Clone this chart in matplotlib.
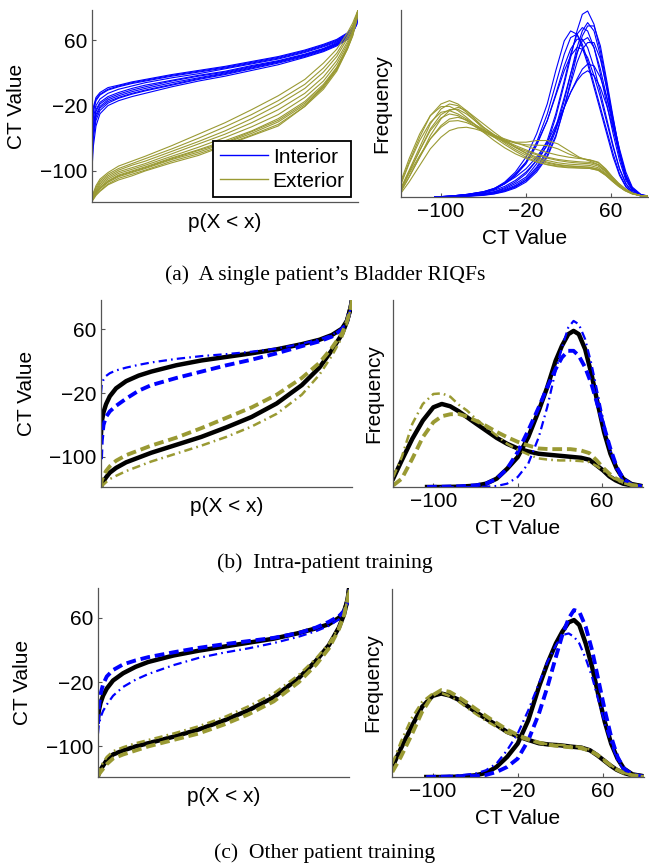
import matplotlib
matplotlib.use("Agg")
import matplotlib.pyplot as plt

plt.rcParams["font.family"] = ["Liberation Sans", "DejaVu Sans"]
plt.rcParams["lines.scale_dashes"] = False

W, H = 649, 865
BLUE, OLIVE, BLACK = "#0000ff", "#9a9a33", "black"
DASHED = (0, (7, 3.5))
DASHDOT = (0, (6, 3, 1.2, 3))

# ---- quantile grids (p) ----
PA = [0, 0.005, 0.015, 0.03, 0.06, 0.1, 0.15, 0.2, 0.3, 0.4, 0.5, 0.6, 0.7, 0.8, 0.87, 0.92, 0.96, 0.98, 0.995, 1.0]
PB = [0, 0.003, 0.01, 0.02, 0.035, 0.06, 0.1, 0.15, 0.2, 0.3, 0.4, 0.5, 0.6, 0.7, 0.8, 0.87, 0.92, 0.96, 0.98, 0.995, 1.0]

# ---- density grids (CT value) ----
XI = [-106, -90, -75, -60, -50, -40, -30, -20, -10, 0, 8, 16, 22, 28, 33, 38, 44, 50, 56, 62, 68, 74, 80, 88, 99]
XE = [-138, -130, -120, -110, -100, -92, -84, -76, -68, -60, -50, -40, -30, -20, -10, 0, 10, 20, 30, 40, 48, 55, 61, 67, 73, 80, 88, 99]

# (a) single patient RIQFs: interior (blue) and exterior (olive)
A_INT_Q = [
    [-45, -22, -10, -4, 2, 5, 9, 12, 18, 23, 28, 34, 40, 48, 55, 61, 69, 76, 86, 95],
    [-55, -28, -14, -7, -1, 3, 7, 10, 16, 21, 26, 32, 38, 46, 53, 59, 67, 74, 84, 94],
    [-62, -35, -20, -12, -5, 0, 4, 8, 14, 19, 25, 31, 37, 45, 52, 58, 66, 73, 83, 93],
    [-70, -42, -25, -16, -9, -4, 1, 5, 11, 17, 22, 29, 35, 43, 50, 57, 65, 72, 82, 92],
    [-80, -50, -31, -21, -13, -8, -3, 1, 8, 14, 20, 27, 34, 42, 49, 56, 64, 71, 81, 91],
    [-90, -60, -38, -26, -17, -11, -6, -2, 5, 12, 18, 25, 32, 40, 47, 54, 62, 70, 80, 90],
    [-98, -70, -45, -30, -20, -14, -9, -5, 3, 10, 16, 23, 30, 39, 46, 53, 61, 69, 79, 89],
    [-50, -25, -12, -6, 0, 4, 8, 11, 17, 22, 27, 33, 39, 47, 54, 60, 68, 75, 85, 94],
    [-75, -45, -27, -18, -11, -6, -1, 3, 10, 16, 21, 28, 34, 42, 49, 55, 62, 69, 79, 88],
    [-85, -55, -34, -23, -15, -10, -5, -1, 6, 13, 19, 26, 33, 41, 48, 55, 63, 71, 82, 92],
]
A_EXT_Q = [
    [-137, -127, -118, -110, -102, -94, -88, -82, -69, -55, -41, -25, -8, 12, 32, 49, 69, 81, 93, 97],
    [-137, -128, -120, -112, -104, -97, -91, -85, -73, -60, -46, -31, -14, 6, 26, 44, 65, 78, 91, 97],
    [-137, -129, -122, -114, -106, -99, -93, -88, -76, -64, -51, -36, -19, 1, 21, 40, 62, 76, 90, 97],
    [-137, -130, -124, -116, -108, -101, -96, -91, -79, -67, -55, -41, -25, -5, 15, 35, 58, 73, 89, 97],
    [-137, -131, -125, -118, -110, -103, -98, -93, -82, -71, -59, -46, -31, -10, 10, 31, 55, 71, 88, 97],
    [-137, -132, -126, -120, -112, -105, -100, -95, -84, -74, -63, -51, -36, -15, 6, 27, 52, 69, 87, 97],
    [-137, -133, -128, -122, -114, -107, -102, -97, -86, -77, -66, -54, -40, -19, 2, 24, 50, 67, 86, 97],
    [-137, -134, -129, -124, -116, -109, -104, -99, -88, -79, -68, -56, -43, -21, 0, 22, 49, 66, 85, 97],
    [-137, -135, -130, -125, -117, -111, -106, -100, -90, -81, -69, -57, -45, -21, 4, 24, 49, 65, 84, 97],
    [-137, -133, -127, -121, -113, -106, -101, -96, -85, -75, -65, -52, -38, -17, 4, 26, 51, 68, 86, 97],
]
A_INT_D = [
    [0, 0.2, 0.5, 1, 1.5, 2.5, 4, 6, 10, 16, 24, 34, 42, 50, 55, 56, 52, 44, 34, 23, 13, 6, 2.5, 0.6, 0],
    [0, 0.3, 0.8, 1.6, 2.5, 4.5, 7.5, 12, 19, 28, 38, 47, 50, 49, 45, 40, 33, 26, 19, 12, 6.5, 3, 1.2, 0.3, 0],
    [0, 0.3, 0.7, 1.4, 2.2, 4, 6.5, 10.5, 16.5, 25, 34, 43, 48, 49, 46, 41, 34, 27, 20, 13, 7, 3.2, 1.2, 0.3, 0],
    [0, 0.2, 0.5, 1, 1.6, 2.8, 4.5, 7, 11, 17, 25, 35, 43, 49, 51, 50, 45, 37, 28, 19, 11, 5, 2, 0.5, 0],
    [0, 0.1, 0.3, 0.8, 1.3, 2.2, 3.5, 5.5, 9, 14, 21, 30, 37, 43.5, 47, 48, 45, 38.5, 30, 21, 12.5, 6, 2.4, 0.6, 0],
    [0, 0.1, 0.3, 0.6, 1, 1.8, 3, 5, 8, 12.5, 18.5, 27, 34, 40.5, 44.5, 46.5, 46.5, 41.5, 33, 23.5, 14, 6.5, 2.6, 0.6, 0],
    [0, 0.3, 0.8, 1.5, 2.5, 4.2, 7, 10.5, 16, 23, 30.5, 38, 42.5, 45, 44.5, 42, 36.5, 30, 22.5, 15, 8.5, 4, 1.5, 0.4, 0],
    [0, 0.2, 0.6, 1.2, 2, 3.2, 5, 7.5, 11, 15.5, 20.5, 27, 31.5, 35.5, 38.5, 40, 39.5, 36, 30, 22.5, 14.5, 7.5, 3, 0.8, 0],
    [0, 0.3, 0.8, 1.6, 2.6, 4, 6, 8.5, 12, 16.5, 21.5, 27, 31.5, 35, 37, 38, 36.5, 33, 27.5, 20.5, 13, 6.5, 2.7, 0.7, 0],
    [0, 0.1, 0.2, 0.5, 0.9, 1.6, 2.7, 4.5, 7.5, 12, 18, 27, 35, 43, 48.5, 51.5, 51.5, 45.5, 35, 24, 13.5, 6, 2.3, 0.5, 0],
    [0, 0.2, 0.7, 1.4, 2.3, 4, 6.5, 10, 15.5, 23, 31, 39.5, 44.5, 47.5, 47.5, 45, 39, 31.5, 23.5, 15.5, 8.5, 4, 1.5, 0.4, 0],
    [0, 0.1, 0.3, 0.7, 1.2, 2, 3.2, 5, 8.5, 13.5, 20, 29, 37, 45, 50, 52.5, 50, 42.5, 32.5, 22, 12.5, 5.5, 2.2, 0.5, 0],
]
A_EXT_D = [
    [4, 10.5, 18, 24.5, 28, 29, 28, 26, 23.5, 21, 18.5, 16.3, 14.3, 12.6, 11.2, 10.2, 9.6, 9.3, 9.1, 8.9, 8.3, 6.8, 5, 3.4, 2, 1, 0.4, 0.1],
    [2.5, 8, 15, 22, 26.5, 28, 27.5, 25.5, 23, 20.5, 18, 15.8, 13.8, 12, 10.7, 9.7, 9.1, 8.8, 8.7, 8.6, 8.1, 6.6, 4.9, 3.3, 2, 1, 0.4, 0.1],
    [1.5, 6, 12, 18.5, 23.5, 26, 27, 26, 24, 22, 19.5, 17.2, 15, 13.1, 11.6, 10.5, 9.8, 9.4, 9.2, 9, 8.4, 6.9, 5.1, 3.5, 2.1, 1, 0.4, 0.1],
    [3.5, 10, 17, 22.5, 25.5, 26, 25, 23.5, 21.8, 20, 18.2, 16.6, 15.1, 13.8, 12.7, 11.7, 11, 10.5, 10.2, 10, 9.3, 7.6, 5.6, 3.8, 2.3, 1.1, 0.4, 0.1],
    [2, 7.5, 14, 20, 23.8, 25, 24.5, 23, 21.2, 19.5, 18, 17, 16.5, 16.5, 17, 17, 16, 14, 12, 10.8, 9.8, 7.8, 5.8, 3.9, 2.4, 1.1, 0.4, 0.1],
    [1.5, 6, 12, 17.5, 21.5, 23.5, 24, 23.2, 21.8, 20.3, 18.6, 17, 15.5, 14.2, 13, 12, 11.3, 10.9, 10.6, 10.4, 9.7, 7.9, 5.8, 3.9, 2.4, 1.1, 0.4, 0.1],
    [2, 7, 12.5, 17.5, 21, 22.8, 23, 22.4, 21.3, 20, 18.5, 17.2, 16.2, 15.7, 15.6, 15.5, 14.5, 13, 11.8, 11.1, 10.3, 8.3, 6.1, 4.1, 2.5, 1.2, 0.4, 0.1],
    [1, 4.5, 9.5, 14.5, 18, 20, 20.8, 21, 20.5, 19.7, 18.6, 17.5, 16.4, 15.3, 14.3, 13.4, 12.6, 12, 11.6, 11.2, 10.5, 8.5, 6.2, 4.2, 2.6, 1.2, 0.4, 0.1],
    [4.5, 11.5, 19, 24.5, 27.2, 27.3, 26, 24, 21.8, 19.5, 17, 14.8, 13, 11.6, 10.5, 9.8, 9.3, 9, 8.8, 8.6, 8, 6.5, 4.8, 3.2, 1.9, 0.9, 0.4, 0.1],
    [2, 7.5, 14, 20.5, 24.8, 26.3, 26.4, 25, 23, 21, 18.8, 16.8, 14.9, 13.3, 12, 11, 10.3, 9.9, 9.7, 9.5, 8.8, 7.2, 5.3, 3.6, 2.2, 1, 0.4, 0.1],
]

# (b) intra-patient training
B_INT_Q = [-71, -56, -44, -34, -24, -14, -5, 2, 7, 15, 21, 25.5, 30, 35, 41.5, 47, 53, 61, 71, 88, 97]
B_INT_Q_DASH = [-103, -80, -60, -50, -43, -36, -27, -17, -10, -1, 7, 15, 22, 30, 39, 45, 51, 60, 70, 88, 97]
B_INT_Q_DOT = [-20, -10, -3, 1.5, 5, 8.5, 12, 15.5, 18.5, 23, 26.5, 29, 32, 36, 42, 47.5, 53, 61, 70, 87, 97]
B_EXT_Q = [-138, -135, -131, -126, -120, -114, -107, -101, -95, -85, -75, -63, -50, -33, -10, 12, 34, 54, 70, 88, 97]
B_EXT_Q_DASH = [-138, -130, -124, -118, -112, -105, -98, -92, -86, -76, -64, -51, -38, -22, -1, 18, 37, 55, 70, 88, 97]
B_EXT_Q_DOT = [-138, -137, -135, -132, -128, -124, -118, -112, -106, -96, -86, -75, -62, -46, -22, 3, 27, 50, 67, 87, 97]
B_INT_D = [0, 0, 0.1, 0.4, 1, 2.5, 5.5, 9, 15, 23, 30, 38, 42.5, 46, 47, 46, 41.5, 34, 25, 16.5, 10, 5.5, 2.5, 0.9, 0.2]
B_INT_D_DASH = [0, 0.1, 0.2, 0.5, 1, 2.5, 5.5, 10.5, 17, 24, 30, 35.5, 39, 41, 41, 39.5, 36, 31, 24.5, 18, 11.5, 6, 2.5, 0.7, 0.1]
B_INT_D_DOT = [0, 0, 0, 0, 0.1, 0.3, 1, 3, 7, 15, 24, 35, 42, 48, 50, 49, 44.5, 37, 28, 19, 11, 5, 2, 0.6, 0.1]
B_EXT_D = [2.6, 8, 14.5, 20, 24, 25, 24.3, 22.8, 21, 19.2, 17, 14.8, 13, 11.6, 10.7, 10, 9.7, 9.4, 9.1, 8.8, 8.2, 6.5, 5, 3.2, 2, 1, 0.5, 0.2]
B_EXT_D_DASH = [0.5, 2.5, 8.5, 15, 19.5, 21.3, 21.9, 22, 21.2, 20, 18.4, 16.6, 15, 13.6, 12.5, 11.6, 11.4, 11.4, 11.4, 11, 10.2, 8, 5.8, 4, 2.6, 1.5, 0.6, 0.2]
B_EXT_D_DOT = [3, 9, 19, 25, 28, 28.2, 27.2, 24.8, 23, 20.6, 18, 15.5, 13, 11.2, 9.8, 8.6, 8.2, 8, 8, 7.8, 7.5, 6.3, 5, 3.5, 2.2, 1.2, 0.5, 0.2]

# (c) other patient training
C_INT_Q = [-66, -56, -46, -37, -28, -18, -9, -1, 5, 13, 19, 24, 29, 34, 41, 47, 52, 60, 68, 82, 95]
C_INT_Q_DASH = [-72, -52, -35, -23, -13, -5, 2, 7, 11, 17, 22.5, 27, 31, 35, 41, 48, 55, 62, 68, 80, 95]
C_INT_Q_DOT = [-84, -74, -64, -56, -48, -37, -26, -17, -10, 1, 10, 16.5, 22, 28.5, 36.5, 43.5, 50, 58, 66, 80, 95]
C_EXT_Q = [-137, -133, -129, -124, -117, -110, -105, -100, -96, -88, -79, -68, -55, -39, -15, 7, 26, 48, 64, 84, 95]
C_EXT_Q_DASH = [-137, -135, -132, -128, -122, -115, -110, -105, -100, -92, -84, -73, -60, -44, -20, 2, 22, 46, 63, 84, 95]
C_EXT_Q_DOT = [-137, -131, -126, -120, -113, -106, -101, -96, -92, -84, -75, -64, -50, -34, -11, 10, 28, 49, 64, 84, 95]
C_INT_D = [0, 0, 0.1, 0.5, 1.2, 3, 6, 10, 17, 27, 34, 40, 43.5, 46.3, 47, 45.5, 40, 33, 24.5, 16.5, 10, 5.5, 2.5, 0.8, 0.2]
C_INT_D_DASH = [0, 0.1, 0.2, 0.3, 0.6, 1.5, 3, 5.5, 11, 19, 27, 36, 42.5, 47.5, 50, 49.5, 45, 38, 29, 20, 12, 6, 2.5, 0.7, 0.1]
C_INT_D_DOT = [0, 0.2, 0.5, 1, 2, 4, 8, 13, 20, 28, 34.5, 39.5, 42.5, 43, 42, 40, 35.5, 30, 23, 16, 10, 5, 2, 0.6, 0.1]
C_EXT_D = [3, 8.5, 15, 21, 24.3, 25, 24.4, 23.2, 21.4, 19.6, 17.5, 15.6, 13.5, 12.2, 11.1, 10.1, 9.7, 9.5, 9.1, 8.8, 8, 6.5, 5, 3.5, 2.2, 1.2, 0.5, 0.2]
C_EXT_D_DASH = [1.5, 6, 12.5, 19.5, 24.5, 26, 25.5, 24, 22.3, 20.5, 18.3, 16.2, 14.2, 12.6, 11.3, 10.3, 9.6, 9.2, 8.9, 8.6, 7.9, 6.6, 5.1, 3.6, 2.3, 1.2, 0.5, 0.2]
C_EXT_D_DOT = [4, 10.5, 17.5, 22.5, 25, 25.2, 24.2, 22.7, 20.8, 19, 16.9, 15, 13.2, 12, 11, 10.2, 9.8, 9.6, 9.3, 9, 8.2, 6.7, 5.2, 3.7, 2.3, 1.2, 0.5, 0.2]

CAPTIONS = ["(a)  A single patient\u2019s Bladder RIQFs", "(b)  Intra-patient training", "(c)  Other patient training"]

# panel boxes in pixels: left, top, right, bottom
LEFT_BOXES = [(92, 10, 358, 202), (101, 300, 352, 487), (98, 588, 349, 777)]
RIGHT_BOXES = [(401, 10, 648, 197), (393, 300, 643, 487), (392, 589, 644, 777)]
CAPTION_Y = [275, 563, 853]


def px_axes(fig, box):
    l, t, r, b = box
    return fig.add_axes([l / W, 1 - b / H, (r - l) / W, (b - t) / H])


def style(ax, box, left_panel):
    for s in ("top", "right"):
        ax.spines[s].set_visible(False)
    for s in ("left", "bottom"):
        ax.spines[s].set_color("#555555")
        ax.spines[s].set_linewidth(0.9)
    ax.tick_params(direction="in", length=3, width=0.8, color="#555555", labelsize=15, pad=3.5)
    l, t, r, b = box
    w, h = r - l, b - t
    if left_panel:
        ax.set_xlim(0, 1)
        ax.set_ylim(-138, 97)
        ax.set_xticks([])
        ax.set_yticks([60, -20, -100])
        ax.set_ylabel("CT Value", fontsize=15, va="center")
        ax.yaxis.set_label_coords(-75 / w, 0.5)
        ax.set_xlabel("p(X < x)", fontsize=15, va="center")
        ax.xaxis.set_label_coords(0.5, -20 / h)
    else:
        ax.set_yticks([])
        ax.set_xticks([-100, -20, 60])
        ax.set_ylabel("Frequency", fontsize=15, va="center")
        ax.yaxis.set_label_coords(-19 / w, 0.5)
        ax.set_xlabel("CT Value", fontsize=15, va="center")
        ax.xaxis.set_label_coords(0.5, -42 / h)


def fit_panels(axq, axd, iq, iq_dash, iq_dot, eq, eq_dash, eq_dot, idd, id_dash, id_dot, ed, ed_dash, ed_dot):
    axq.plot(PB, iq, color=BLACK, lw=3.2)
    axq.plot(PB, eq, color=BLACK, lw=3.2)
    axq.plot(PB, iq_dash, color=BLUE, lw=2.8, ls=DASHED)
    axq.plot(PB, iq_dot, color=BLUE, lw=1.6, ls=DASHDOT)
    axq.plot(PB, eq_dash, color=OLIVE, lw=2.8, ls=DASHED)
    axq.plot(PB, eq_dot, color=OLIVE, lw=1.8, ls=DASHDOT)

    axd.plot(XI, idd, color=BLACK, lw=3.2)
    axd.plot(XE, ed, color=BLACK, lw=3.2)
    axd.plot(XI, id_dash, color=BLUE, lw=2.8, ls=DASHED)
    axd.plot(XI, id_dot, color=BLUE, lw=1.6, ls=DASHDOT)
    axd.plot(XE, ed_dash, color=OLIVE, lw=2.8, ls=DASHED)
    axd.plot(XE, ed_dot, color=OLIVE, lw=1.8, ls=DASHDOT)


fig = plt.figure(figsize=(W / 100, H / 100), dpi=100)

axes = []
for lb, rb in zip(LEFT_BOXES, RIGHT_BOXES):
    axq, axd = px_axes(fig, lb), px_axes(fig, rb)
    axes.append((axq, axd))

# row (a)
axq, axd = axes[0]
for i, q in enumerate(A_INT_Q):
    axq.plot(PA, q, color=BLUE, lw=0.8, label="Interior" if i == 0 else None)
for i, q in enumerate(A_EXT_Q):
    axq.plot(PA, q, color=OLIVE, lw=0.8, label="Exterior" if i == 0 else None)
for d in A_INT_D:
    axd.plot(XI, d, color=BLUE, lw=0.8)
for d in A_EXT_D:
    axd.plot(XE, d, color=OLIVE, lw=0.8)
leg = axq.legend(loc="lower right", bbox_to_anchor=(1 - 7 / 266, 5 / 192), borderaxespad=0,
                 fontsize=15, handlelength=2.3, handletextpad=0.25, labelspacing=0.25,
                 borderpad=0.3, fancybox=False, framealpha=1)
leg.get_frame().set_edgecolor("black")
leg.get_frame().set_linewidth(1.3)
for line in leg.get_lines():
    line.set_linewidth(1.0)

# rows (b) and (c)
fit_panels(*axes[1], B_INT_Q, B_INT_Q_DASH, B_INT_Q_DOT, B_EXT_Q, B_EXT_Q_DASH, B_EXT_Q_DOT,
           B_INT_D, B_INT_D_DASH, B_INT_D_DOT, B_EXT_D, B_EXT_D_DASH, B_EXT_D_DOT)
fit_panels(*axes[2], C_INT_Q, C_INT_Q_DASH, C_INT_Q_DOT, C_EXT_Q, C_EXT_Q_DASH, C_EXT_Q_DOT,
           C_INT_D, C_INT_D_DASH, C_INT_D_DOT, C_EXT_D, C_EXT_D_DASH, C_EXT_D_DOT)

xlims = [(-137.6, 94.8), (-138.3, 98.9), (-138.3, 98.9)]
for (axq, axd), lb, rb, xl in zip(axes, LEFT_BOXES, RIGHT_BOXES, xlims):
    style(axq, lb, True)
    style(axd, rb, False)
    axd.set_xlim(*xl)
    axd.set_ylim(0, 56.3)

for cap, y in zip(CAPTIONS, CAPTION_Y):
    fig.text(325 / W, 1 - y / H, cap, ha="center", va="center", fontsize=15.6, family="Liberation Serif")

fig.savefig("out.png", dpi=100)
